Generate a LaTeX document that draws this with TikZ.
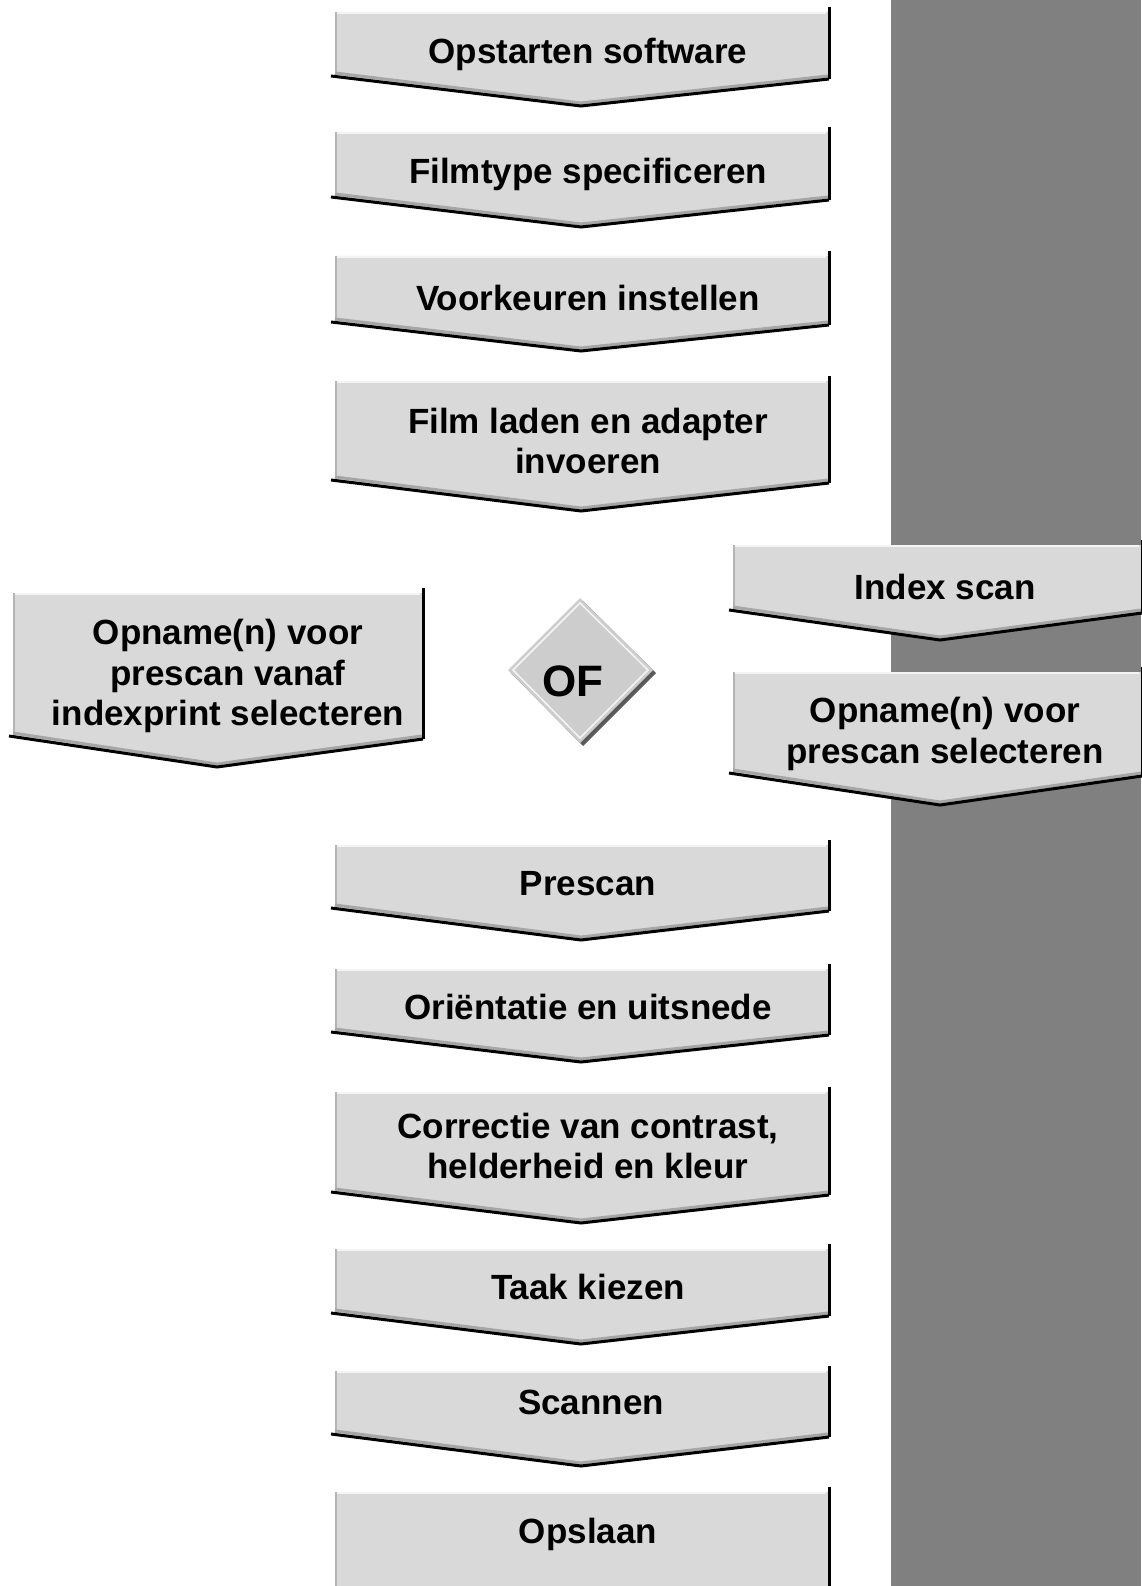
\documentclass[tikz,border=0pt]{standalone}
\usepackage{fontspec}
\setmainfont{Liberation Sans}
\usetikzlibrary{calc}
\definecolor{boxfill}{HTML}{D9D9D9}
\definecolor{boxrim}{HTML}{B4B4B4}
\definecolor{boxlight}{HTML}{F4F4F4}
\definecolor{boxshade}{HTML}{A6A6A6}
\definecolor{panel}{HTML}{808080}
\definecolor{gatefill}{HTML}{CDCDCD}
\definecolor{gateshade}{HTML}{5A5A5A}

\begin{document}
\begin{tikzpicture}[
    x=1pt, y=-1pt,
    face/.style={fill=boxfill},
    toprim/.style={boxlight, line width=2pt},
    leftrim/.style={boxrim, line width=2pt},
    rightrim/.style={black, line width=3pt},
    lowrim/.style={black, line width=3pt, line join=miter},
    lowshade/.style={boxshade, line width=3pt},
    lbl/.style={font=\bfseries\fontsize{35pt}{40.5pt}\selectfont, align=center, inner sep=0pt},
]
\useasboundingbox (0,0) rectangle (1141,1586);

% ============================================================ grey band at the right
\fill[panel] (891,0) rectangle (1141,1586);

% ============================================================ all pointed steps
% left/right/tip x, then top/side/tip y
\foreach \a/\b/\m/\t/\s/\p in {
    335/828/581/12/76/106,
    335/828/581/132/197/227,
    335/828/581/256/322/351,
    335/828/581/381/480/511,
    13/422/217/593/736/767,
    733/1141/940/545/610/640,
    733/1141/940/672/773/805,
    335/828/581/845/908/940,
    335/828/581/969/1032/1062,
    335/828/581/1092/1192/1223,
    335/828/581/1249/1313/1344,
    335/828/581/1371/1434/1466}{
    \fill[face] (\a,\t) -- (\b,\t) -- (\b,{\s+3}) -- (\m,\p) -- (\a,\s) -- cycle;
    \draw[toprim] ({\a+1},{\t+1}) -- ({\b-2},{\t+1});
    \draw[leftrim] ({\a+1},\t) -- ({\a+1},\s);
    \draw[lowshade] (\a,{\s-3}) -- (\m,{\p-3}) -- (\b,\s);
    \draw[lowrim] ({\a-4},\s) -- (\m,\p) -- ({\b+1},{\s+3});
    \draw[rightrim] ({\b+1},{\t-5}) -- ({\b+1},{\s+3});
}

% last step, no point
\fill[face] (335,1492) rectangle (828,1586);
\draw[toprim] (336,1493) -- (826,1493);
\draw[leftrim] (336,1492) -- (336,1586);
\draw[rightrim] (829,1487) -- (829,1586);

% ============================================================ the OF diamond
\fill[gateshade] (583,601) -- (656,673) -- (583,746) -- (511,673) -- cycle;
\fill[gatefill] (580,598) -- (653,670) -- (580,743) -- (508,670) -- cycle;
\draw[boxlight, line width=1.5pt] (580,603) -- (648,670) -- (580,738) -- (513,670) -- cycle;
\node[font=\bfseries\fontsize{44pt}{50pt}\selectfont, inner sep=0pt] (ofsign) at (573,681) {OF};

% ============================================================ labels
\node[lbl] (start)    at (588,54)   {Opstarten software};
\node[lbl] (filmtype) at (588,174)  {Filmtype specificeren};
\node[lbl] (prefs)    at (588,298)  {Voorkeuren instellen};
\node[lbl] (loadfilm) at (588,441)  {Film laden en adapter\\invoeren};

\node[lbl] (pickindex)  at (228,676) {Opname(n) voor\\prescan vanaf\\indexprint selecteren};
\node[lbl] (indexscan)  at (945,587) {Index scan};
\node[lbl] (pickframes) at (945,734) {Opname(n) voor\\prescan selecteren};

\node[lbl] (prescan) at (588,884)  {Prescan};
\node[lbl] (orient)  at (588,1007) {Oriëntatie en uitsnede};
\node[lbl] (correct) at (588,1146) {Correctie van contrast,\\helderheid en kleur};
\node[lbl] (task)    at (588,1287) {Taak kiezen};
\node[lbl] (scan)    at (591,1402) {Scannen};
\node[lbl] (save)    at (588,1534) {Opslaan};

\end{tikzpicture}
\end{document}
